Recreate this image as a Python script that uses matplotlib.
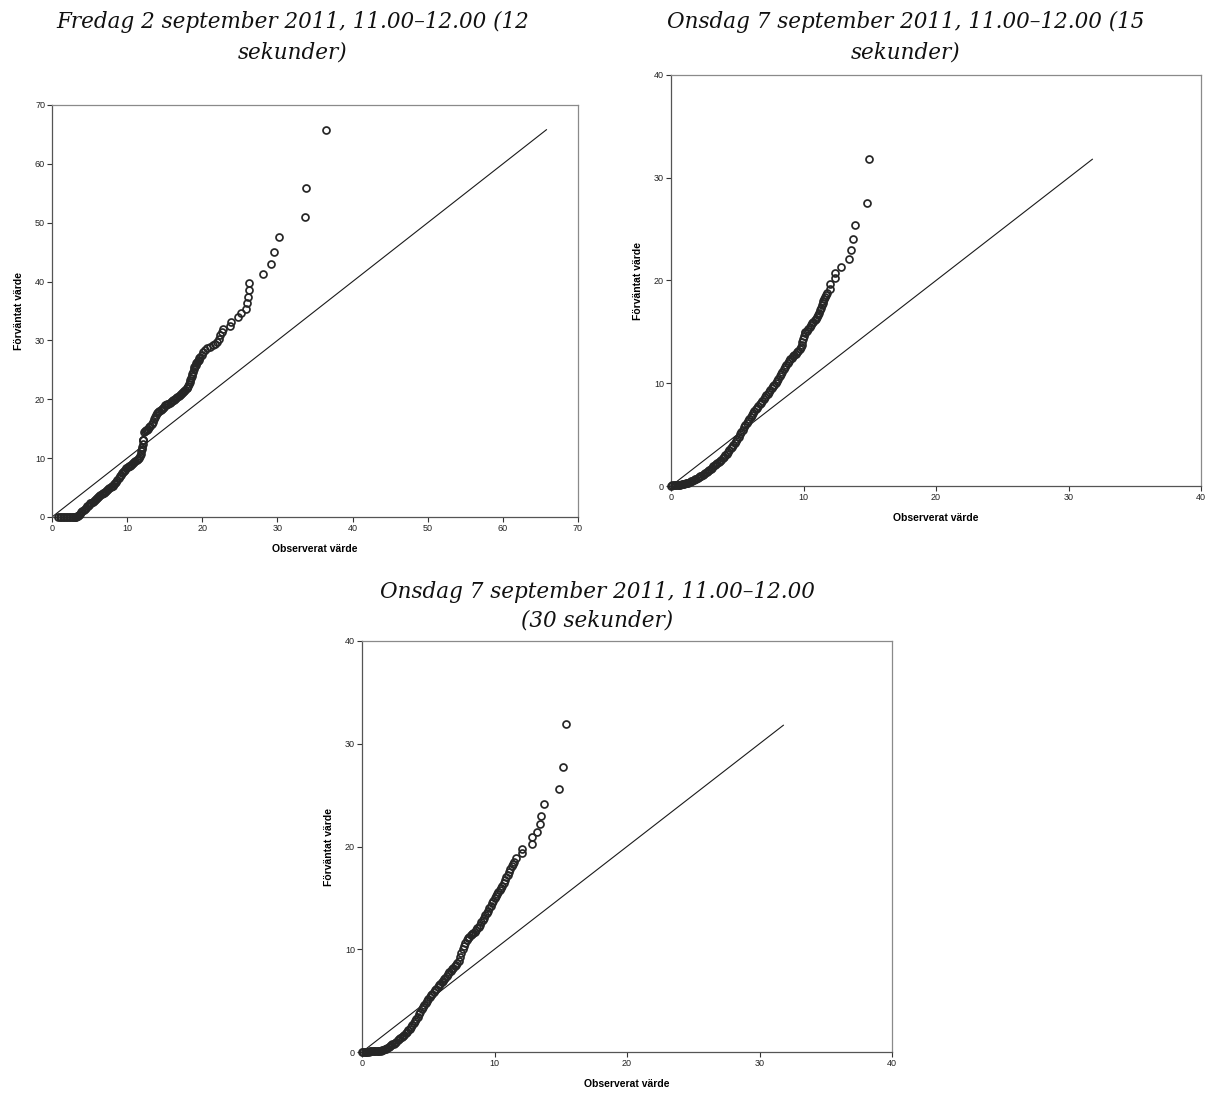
import matplotlib
matplotlib.use("Agg")
import matplotlib.pyplot as plt

# Rubriker (två rader var, som i originalet)
title_lines = [
    ("Fredag 2 september 2011, 11.00–12.00 (12", "sekunder)"),
    ("Onsdag 7 september 2011, 11.00–12.00 (15", "sekunder)"),
    ("Onsdag 7 september 2011, 11.00–12.00", "(30 sekunder)"),
]
x_label = "Observerat värde"
y_label = "Förväntat värde"

# Diagram 1 – observerat (x) mot förväntat (y)
obs1 = [0.8, 1.0, 1.2, 1.4, 1.6, 1.8, 2.0, 2.2, 2.4, 2.6, 2.8, 3.0, 3.1, 3.2,
        # täta delen upp till x = 12
        3.3, 3.45, 3.6, 3.75, 3.9, 4.05, 4.2, 4.35, 4.5, 4.65,
        4.8, 4.95, 5.1, 5.25, 5.4, 5.55, 5.7, 5.85, 6.0, 6.15,
        6.3, 6.45, 6.6, 6.75, 6.9, 7.05, 7.2, 7.35, 7.5, 7.65,
        7.8, 7.95, 8.1, 8.25, 8.4, 8.55, 8.7, 8.85, 9.0, 9.15,
        9.3, 9.45, 9.6, 9.75, 9.9, 10.05, 10.2, 10.35, 10.5, 10.65,
        10.8, 10.95, 11.1, 11.25, 11.4, 11.55, 11.7,
        11.8, 11.9, 11.95, 12.0, 12.05,
        12.05, 12.05, 12.05,
        # efter hoppet
        12.2, 12.35, 12.5, 12.65, 12.8, 12.95, 13.1, 13.25, 13.4, 13.55,
        13.7, 13.85, 14.0, 14.15, 14.3, 14.45, 14.6, 14.75, 14.9, 15.05,
        15.2, 15.35, 15.5, 15.65, 15.8, 15.95, 16.1, 16.25, 16.4, 16.55,
        16.7, 16.85, 17.0, 17.15, 17.3, 17.45, 17.6, 17.75, 17.9, 18.0,
        18.1, 18.2, 18.3, 18.4, 18.5, 18.6, 18.68, 18.76, 18.84, 18.92,
        19.0, 19.1, 19.2, 19.3, 19.4, 19.5, 19.6, 19.7,
        # glesa punkter
        20.0, 20.1, 20.3, 20.6, 21.0, 21.4, 21.7, 22.0, 22.2, 22.4, 22.6, 22.7,
        23.7, 23.8, 24.8, 25.1, 25.8, 25.9, 26.1, 26.2, 26.2, 28.1, 29.1, 29.6,
        30.25, 33.7, 33.8, 36.5]
exp1 = [0.05, 0.05, 0.05, 0.05, 0.05, 0.05, 0.05, 0.05, 0.05, 0.05, 0.05, 0.05, 0.05, 0.05,
        0.1, 0.2, 0.37, 0.58, 0.8, 1.03, 1.22, 1.41, 1.6, 1.79,
        1.95, 2.11, 2.3, 2.45, 2.63, 2.8, 2.95, 3.1, 3.25, 3.4,
        3.55, 3.7, 3.85, 4.0, 4.15, 4.3, 4.45, 4.6, 4.75, 4.9,
        5.05, 5.2, 5.35, 5.53, 5.75, 6.0, 6.3, 6.6, 6.9, 7.2,
        7.45, 7.68, 7.88, 8.06, 8.25, 8.44, 8.6, 8.75, 8.9, 9.05,
        9.2, 9.35, 9.5, 9.68, 9.87, 10.1, 10.4,
        10.75, 11.15, 11.5, 11.9, 12.35,
        13.0, 13.0, 13.0,
        14.4, 14.55, 14.7, 14.85, 15.0, 15.22, 15.5, 15.82, 16.2, 16.57,
        16.95, 17.32, 17.6, 17.83, 18.0, 18.15, 18.3, 18.52, 18.75, 18.95,
        19.1, 19.18, 19.25, 19.35, 19.5, 19.65, 19.8, 19.95, 20.1, 20.25,
        20.4, 20.55, 20.7, 20.85, 21.0, 21.18, 21.4, 21.62, 21.85, 22.0,
        22.25, 22.55, 22.9, 23.25, 23.6, 23.9, 24.3, 24.7, 25.1, 25.45,
        25.7, 25.9, 26.1, 26.3, 26.5, 26.7, 26.95, 27.2,
        27.6, 28.0, 28.4, 28.7, 28.9, 29.2, 29.4, 29.8, 30.3, 30.9, 31.4, 31.9,
        32.5, 33.2, 33.9, 34.7, 35.4, 36.3, 37.3, 38.5, 39.8, 41.3, 43.0, 45.0,
        47.6, 50.9, 55.9, 65.7]
ref1 = 65.8   # referenslinjens slut (y = x)
lim1 = 70

# Diagram 2
obs2 = [0.0, 0.1, 0.2, 0.3, 0.4, 0.5, 0.6, 0.7, 0.8, 0.9,
        1.0, 1.1, 1.2, 1.3, 1.4, 1.5, 1.6, 1.7, 1.8, 1.9,
        2.0, 2.1, 2.2, 2.3, 2.4, 2.5, 2.6, 2.7, 2.8, 2.9,
        3.0, 3.1, 3.2, 3.3, 3.4, 3.5, 3.6, 3.7, 3.8, 3.9,
        4.0, 4.1, 4.2, 4.3, 4.4, 4.5, 4.6, 4.7, 4.8, 4.9,
        5.0, 5.1, 5.2, 5.3, 5.4, 5.5, 5.6, 5.7, 5.8, 5.9,
        6.0, 6.1, 6.2, 6.3, 6.4, 6.5, 6.6, 6.7, 6.8, 6.9,
        7.0, 7.1, 7.2, 7.3, 7.4, 7.5, 7.6, 7.7, 7.8, 7.9,
        8.0, 8.1, 8.2, 8.3, 8.4, 8.5, 8.6, 8.7, 8.8, 8.9,
        9.0, 9.1, 9.2, 9.3, 9.4, 9.5, 9.6, 9.7, 9.8,
        9.86, 9.92, 9.98, 10.04, 10.1,
        10.15, 10.25, 10.36, 10.46, 10.55, 10.65, 10.74, 10.85, 10.95, 11.04,
        11.12, 11.19, 11.25, 11.31, 11.37, 11.44, 11.5, 11.55, 11.6, 11.68, 11.75,
        12.0, 12.0, 12.4, 12.4, 12.85, 13.4, 13.6, 13.75, 13.85, 14.8, 14.95]
exp2 = [0.04, 0.05, 0.05, 0.05, 0.06, 0.08, 0.1, 0.12, 0.15, 0.18,
        0.21, 0.25, 0.29, 0.33, 0.39, 0.45, 0.51, 0.58, 0.65, 0.72,
        0.8, 0.87, 0.94, 1.02, 1.11, 1.2, 1.3, 1.4, 1.5, 1.6,
        1.7, 1.8, 1.9, 2.0, 2.1, 2.2, 2.32, 2.45, 2.57, 2.7,
        2.85, 3.0, 3.15, 3.3, 3.47, 3.65, 3.82, 4.0, 4.2, 4.4,
        4.6, 4.8, 5.02, 5.25, 5.47, 5.7, 5.92, 6.15, 6.35, 6.55,
        6.75, 6.95, 7.12, 7.3, 7.45, 7.6, 7.78, 7.95, 8.12, 8.3,
        8.47, 8.65, 8.82, 9.0, 9.17, 9.35, 9.52, 9.7, 9.87, 10.05,
        10.25, 10.45, 10.67, 10.9, 11.12, 11.35, 11.57, 11.8, 12.0, 12.2,
        12.35, 12.5, 12.62, 12.75, 12.87, 13.0, 13.15, 13.3, 13.5,
        13.75, 14.0, 14.3, 14.6, 14.85,
        14.95, 15.1, 15.3, 15.5, 15.7, 15.85, 16.0, 16.15, 16.3, 16.45,
        16.6, 16.85, 17.1, 17.35, 17.6, 17.8, 18.0, 18.2, 18.4, 18.6, 18.8,
        19.2, 19.7, 20.2, 20.7, 21.3, 22.1, 23.0, 24.0, 25.4, 27.55, 31.8]
ref2 = 31.8
lim2 = 40

# Diagram 3
obs3 = [0.0, 0.1, 0.2, 0.3, 0.4, 0.5, 0.6, 0.7, 0.8, 0.9,
        1.0, 1.1, 1.2, 1.3, 1.4, 1.5, 1.6, 1.7, 1.8, 1.9,
        2.0, 2.1, 2.2, 2.3, 2.4, 2.5, 2.6, 2.7, 2.8, 2.9,
        3.0, 3.1, 3.2, 3.3, 3.4, 3.5, 3.6, 3.7, 3.8, 3.9,
        4.0, 4.1, 4.2, 4.3, 4.4, 4.5, 4.6, 4.7, 4.8, 4.9,
        5.0, 5.1, 5.2, 5.3, 5.4, 5.5, 5.6, 5.7, 5.8, 5.9,
        6.0, 6.1, 6.2, 6.3, 6.4, 6.5, 6.6, 6.7, 6.8, 6.9,
        7.0, 7.1, 7.2, 7.3, 7.4, 7.5, 7.6, 7.7, 7.8, 7.9,
        8.0, 8.1, 8.2, 8.3, 8.4, 8.5, 8.6, 8.7, 8.8, 8.9,
        9.0, 9.1, 9.2, 9.3, 9.4, 9.5, 9.6, 9.7, 9.8, 9.9,
        10.0, 10.1, 10.2, 10.3, 10.4, 10.5, 10.6, 10.7, 10.8, 10.9,
        11.0, 11.1, 11.2, 11.3, 11.4,
        11.5, 11.65, 12.1, 12.1, 12.8, 12.82, 13.17, 13.4, 13.5, 13.75, 14.85,
        15.2, 15.37]
exp3 = [0.03, 0.03, 0.03, 0.04, 0.04, 0.04, 0.05, 0.05, 0.05, 0.06,
        0.07, 0.08, 0.09, 0.11, 0.14, 0.17, 0.22, 0.27, 0.33, 0.4,
        0.47, 0.55, 0.64, 0.73, 0.82, 0.92, 1.02, 1.12, 1.23, 1.34,
        1.45, 1.56, 1.69, 1.82, 1.96, 2.1, 2.25, 2.42, 2.6, 2.8,
        3.0, 3.22, 3.45, 3.68, 3.92, 4.15, 4.38, 4.6, 4.8, 5.0,
        5.18, 5.35, 5.52, 5.68, 5.85, 6.02, 6.18, 6.35, 6.48, 6.63,
        6.8, 6.93, 7.08, 7.25, 7.42, 7.58, 7.75, 7.92, 8.07, 8.2,
        8.33, 8.47, 8.65, 8.88, 9.2, 9.6, 10.0, 10.35, 10.65, 10.9,
        11.07, 11.22, 11.35, 11.45, 11.57, 11.7, 11.87, 12.03, 12.2, 12.4,
        12.62, 12.85, 13.08, 13.3, 13.5, 13.73, 13.97, 14.2, 14.47, 14.73,
        15.0, 15.2, 15.4, 15.6, 15.8, 16.0, 16.2, 16.47, 16.73, 17.0,
        17.27, 17.53, 17.8, 18.07, 18.3,
        18.5, 18.9, 19.35, 19.8, 20.2, 20.9, 21.4, 22.15, 23.0, 24.1, 25.55,
        27.7, 31.9]
ref3 = 31.8
lim3 = 40

# %% Layout (pixlar i en bild på 1210 x 1095)
W, H = 1210, 1095
fig = plt.figure(figsize=(W / 100, H / 100), dpi=100)


def box(left, top, right, bottom):
    return [left / W, 1 - bottom / H, (right - left) / W, (bottom - top) / H]


panels = [
    (box(52, 105, 578, 517), obs1, exp1, ref1, lim1, (293, 22, 52)),
    (box(671, 75, 1201, 486), obs2, exp2, ref2, lim2, (906, 22, 52)),
    (box(362, 641, 892, 1052), obs3, exp3, ref3, lim3, (597, 592, 621)),
]

title_font = dict(family="DejaVu Serif", style="italic", size=15.5, color="#111111")
tick_font = "Liberation Sans"

for (rect, xs, ys, ref, lim, tpos), lines in zip(panels, title_lines):
    assert len(xs) == len(ys), (len(xs), len(ys))
    ax = fig.add_axes(rect)
    ax.plot([0, ref], [0, ref], color="#1a1a1a", lw=0.8, zorder=2)
    ax.plot(xs, ys, ls="none", marker="o", ms=5.0, mfc="none", mec="#262626",
            mew=1.25, clip_on=False, zorder=3)
    ax.set_xlim(0, lim)
    ax.set_ylim(0, lim)
    ticks = list(range(0, lim + 1, 10))
    ax.set_xticks(ticks)
    ax.set_yticks(ticks)
    ax.tick_params(direction="out", length=3.5, width=0.8, color="#333333",
                   labelsize=6.5, pad=1.5, labelcolor="#222222")
    for lab in ax.get_xticklabels() + ax.get_yticklabels():
        lab.set_family(tick_font)
    for side in ("left", "bottom"):
        ax.spines[side].set_color("#555555")
        ax.spines[side].set_linewidth(0.9)
    for side in ("top", "right"):
        ax.spines[side].set_color("#8a8a8a")
        ax.spines[side].set_linewidth(0.9)
    ax.set_xlabel(x_label, family=tick_font, weight="bold", size=7.5, labelpad=8)
    ax.set_ylabel(y_label, family=tick_font, weight="bold", size=7.5, labelpad=8)

    cx, y1, y2 = tpos
    fig.text(cx / W, 1 - y1 / H, lines[0], ha="center", va="center", **title_font)
    fig.text(cx / W, 1 - y2 / H, lines[1], ha="center", va="center", **title_font)

fig.savefig("out.png", dpi=100)
